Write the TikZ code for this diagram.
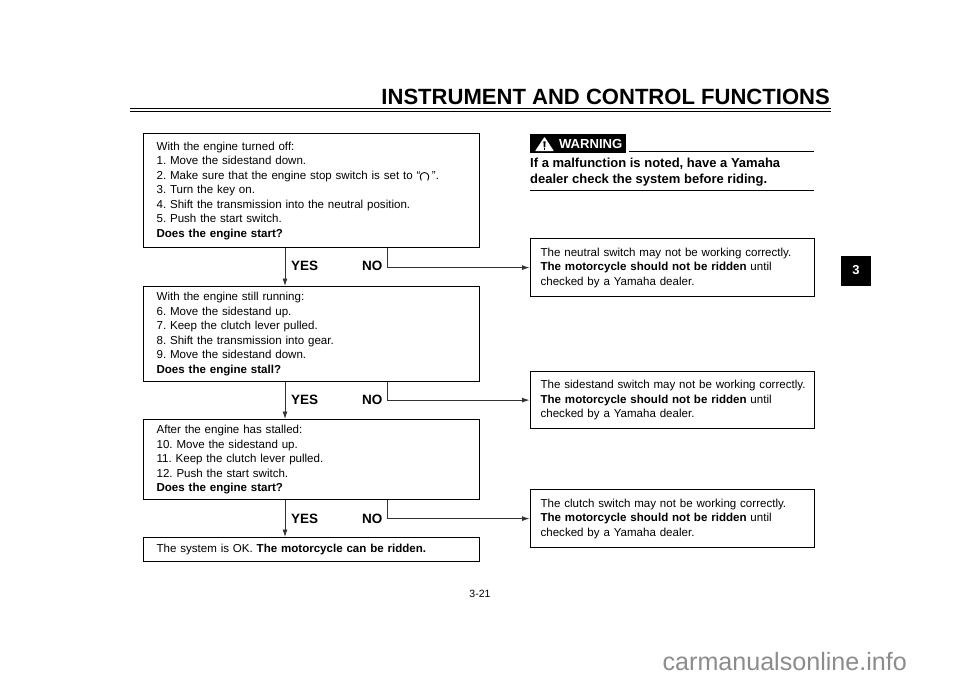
\documentclass[tikz,border=0pt]{standalone}
\usepackage{fontspec}
\setmainfont{Liberation Sans}
\usetikzlibrary{arrows.meta}
\tikzset{
  x=1pt,y=-1pt,
  flowbox/.style={draw=black,line width=1.2pt,rectangle,anchor=north west,inner xsep=0pt,inner ysep=0pt,align=left,
     font=\fontsize{11.55}{14.5}\selectfont},
  yesarrow/.style={draw=black!80,line width=0.9pt,-{Latex[length=7.5pt,width=5pt]}},
  label/.style={font=\bfseries\fontsize{13.5}{15}\selectfont,inner sep=0pt},
}
\newcommand{\bx}[7]{\node[flowbox,minimum width=#3 pt,minimum height=#4 pt,text width=#3pt-#6pt-#6pt] (#5) at (#1,#2) {\frenchspacing\hyphenpenalty=10000 #7};}
\begin{document}
\begin{tikzpicture}
\useasboundingbox (0,0) rectangle (960,679);
\fill[white] (0,0) rectangle (960,679);
% header
\node[anchor=base east,inner sep=0pt,font=\bfseries\fontsize{22.05}{24}\selectfont] (title) at (830,104.5) {INSTRUMENT AND CONTROL FUNCTIONS};
\coordinate (ruleL) at (130,109); \coordinate (ruleR) at (831,109);
\coordinate (ruleLb) at (130,111.7); \coordinate (ruleRb) at (831,111.7);
\draw[line width=1pt] (ruleL) -- (ruleR);
\draw[line width=1.4pt] (ruleLb) -- (ruleRb);
% tab
\node[fill=black,text=white,minimum width=30pt,minimum height=30pt,inner sep=0pt,font=\bfseries\fontsize{13}{15}\selectfont] (tab) at (856,270.5) {3};
% left boxes
\bx{143}{133}{336}{114}{a}{13}{With the engine turned off:\\
1. Move the sidestand down.\\
2. Make sure that the engine stop switch is set to “\hspace{11.5pt}”.\\
3. Turn the key on.\\
4. Shift the transmission into the neutral position.\\
5. Push the start switch.\\
\textbf{Does the engine start?}}
\bx{143}{286}{336}{95}{b}{13}{With the engine still running:\\
6. Move the sidestand up.\\
7. Keep the clutch lever pulled.\\
8. Shift the transmission into gear.\\
9. Move the sidestand down.\\
\textbf{Does the engine stall?}}
\bx{143}{419}{336}{80}{c}{13}{After the engine has stalled:\\
10. Move the sidestand up.\\
11. Keep the clutch lever pulled.\\
12. Push the start switch.\\
\textbf{Does the engine start?}}
\bx{143}{537}{336}{24}{d}{13}{The system is OK. \textbf{The motorcycle can be ridden.}}
% right boxes
\bx{529.5}{238}{284.5}{58}{e}{10.5}{The neutral switch may not be working correctly.\\
\textbf{The motorcycle should not be ridden} until\\
checked by a Yamaha dealer.}
\bx{529.5}{371}{284.5}{57}{f}{10.5}{\mbox{The sidestand switch may not be working correctly.}\\
\textbf{The motorcycle should not be ridden} until\\
checked by a Yamaha dealer.}
\bx{529.5}{489}{284.5}{58}{g}{10.5}{The clutch switch may not be working correctly.\\
\textbf{The motorcycle should not be ridden} until\\
checked by a Yamaha dealer.}
% engine stop symbol
\draw[line width=0.9pt] (421.3,180.5) .. controls (416,170) and (433,170) .. (427.7,180.5);
% yes arrows
\draw[yesarrow] (a.south -| 285,0) -- (b.north -| 285,0);
\draw[yesarrow] (b.south -| 285,0) -- (c.north -| 285,0);
\draw[yesarrow] (c.south -| 285,0) -- (d.north -| 285,0);
% no connectors
\draw[yesarrow] (a.south -| 387,0) |- (e.west);
\draw[yesarrow] (b.south -| 387,0) |- (f.west);
\draw[yesarrow] (c.south -| 387,0) |- (g.west);
% labels
\node[label,anchor=base west] (y1) at (291,270) {YES};
\node[label,anchor=base west] (n1) at (362,270) {NO};
\node[label,anchor=base west] (y2) at (291,404) {YES};
\node[label,anchor=base west] (n2) at (362,404) {NO};
\node[label,anchor=base west] (y3) at (291,523) {YES};
\node[label,anchor=base west] (n3) at (362,523) {NO};
% warning
\node[fill=black,minimum width=96.5pt,minimum height=18.5pt,anchor=north west,inner sep=0pt] (wbox) at (529.3,134.2) {};
\fill[white,rounded corners=0.8pt] (535,151.2) -- (544.5,136.8) -- (554,151.2) -- cycle;
\fill[black] (543.4,141.5) -- (545.6,141.5) -- (545.2,147.5) -- (543.8,147.5) -- cycle;
\fill[black] (543.6,148.3) rectangle (545.4,150.2);
\node[anchor=base west,inner sep=0pt,text=white,font=\bfseries\fontsize{13.1}{14}\selectfont] (wtxt) at (558.8,148.4) {WARNING};
\coordinate (w1) at (629,151.8); \coordinate (w2) at (814,151.8);
\draw[line width=1.1pt] (w1) -- (w2);
\node[anchor=north west,inner sep=0pt,align=left,font=\bfseries\fontsize{13}{16}\selectfont] (wt) at (530,157.5) {If a malfunction is noted, have a Yamaha\\dealer check the system before riding.};
\coordinate (w3) at (530,190.7); \coordinate (w4) at (814,190.7);
\draw[line width=1.1pt] (w3) -- (w4);
% footer
\node[font=\fontsize{10.5}{12}\selectfont,inner sep=0pt] (page) at (480,593.5) {3-21};
\node[anchor=base east,inner sep=0pt,text=black!45,font=\fontsize{25.1}{28}\selectfont] (wm) at (907,670.5) {carmanualsonline.info};
\end{tikzpicture}
\end{document}
